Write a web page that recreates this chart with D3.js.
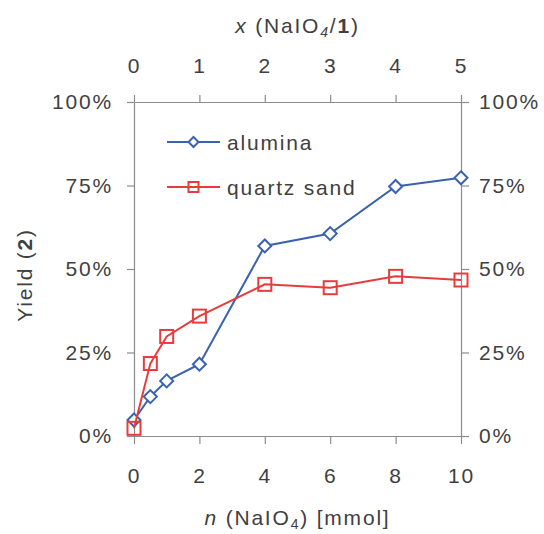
<!DOCTYPE html>
<html>
<head>
<meta charset="utf-8">
<script src="https://cdn.jsdelivr.net/npm/d3@7"></script>
<style>
  body { margin: 0; background: #fff; }
  text { font-family: "Liberation Sans", Arial, sans-serif; fill: #404040; letter-spacing: 1.8px; }
</style>
</head>
<body>
<div id="chart"></div>
<script>
// data
const nValues = [0, 0.5, 1, 2, 4, 6, 8, 10];          // n(NaIO4) mmol
const alumina = [4.8, 11.8, 16.5, 21.5, 56.9, 60.6, 74.7, 77.3];
const quartzSand = [2.3, 21.7, 29.8, 35.9, 45.4, 44.4, 47.8, 46.7];
const bottomTicks = [0, 2, 4, 6, 8, 10];
const topTicks = [0, 1, 2, 3, 4, 5];
const yTicks = [0, 25, 50, 75, 100];

const W = 544, H = 534;
const margin = {top: 102, right: 83, bottom: 98, left: 134};
const width = W - margin.left - margin.right;
const height = H - margin.top - margin.bottom;
const fs = 21;

const svg = d3.select("#chart").append("svg")
    .attr("width", W)
    .attr("height", H);
const g = svg.append("g")
    .attr("transform", `translate(${margin.left},${margin.top})`);

const x = d3.scaleLinear().domain([0, 10]).range([0, width]);
const xTop = d3.scaleLinear().domain([0, 5]).range([0, width]);
const y = d3.scaleLinear().domain([0, 100]).range([height, 0]);

function styleAxis(sel) {
    sel.selectAll("path, line").attr("stroke", "#8c8c8c").attr("stroke-width", 1.2);
    sel.selectAll("text").attr("font-size", fs).attr("fill", "#404040")
        .style("font-family", '"Liberation Sans", Arial, sans-serif');
}

g.append("g")
    .attr("transform", `translate(0,${height})`)
    .call(d3.axisBottom(x).tickValues(bottomTicks).tickFormat(d3.format("d"))
        .tickSize(8).tickPadding(24).tickSizeOuter(0))
    .call(styleAxis);

g.append("g")
    .call(d3.axisTop(xTop).tickValues(topTicks).tickFormat(d3.format("d"))
        .tickSize(7).tickPadding(22).tickSizeOuter(0))
    .call(styleAxis);

g.append("g")
    .call(d3.axisLeft(y).tickValues(yTicks).tickFormat(d => d + "%")
        .tickSize(7).tickPadding(14).tickSizeOuter(0))
    .call(styleAxis);

g.append("g")
    .attr("transform", `translate(${width},0)`)
    .call(d3.axisRight(y).tickValues(yTicks).tickFormat(d => d + "%")
        .tickSize(8).tickPadding(10).tickSizeOuter(0))
    .call(styleAxis);

// series
const series = [
    {name: "alumina", values: alumina, color: "#3a62b0", shape: "diamond"},
    {name: "quartz sand", values: quartzSand, color: "#e83c3c", shape: "square"}
];

const line = d3.line()
    .x(d => x(d[0]))
    .y(d => y(d[1]));

function marker(sel, shape, color, r) {
    if (shape === "diamond") {
        sel.append("path")
            .attr("d", `M0,${-r}L${r},0L0,${r}L${-r},0Z`)
            .attr("fill", "#fff")
            .attr("stroke", color)
            .attr("stroke-width", 2);
    } else {
        sel.append("rect")
            .attr("x", -r).attr("y", -r)
            .attr("width", 2 * r).attr("height", 2 * r)
            .attr("fill", "none")
            .attr("stroke", color)
            .attr("stroke-width", 2);
    }
}

series.forEach(s => {
    const pts = nValues.map((n, i) => [n, s.values[i]]);
    g.append("path")
        .datum(pts)
        .attr("fill", "none")
        .attr("stroke", s.color)
        .attr("stroke-width", 2)
        .attr("d", line);
    g.selectAll(null)
        .data(pts)
        .enter().append("g")
        .attr("transform", d => `translate(${x(d[0])},${y(d[1])})`)
        .each(function() { marker(d3.select(this), s.shape, s.color, 6.5); });
});

// legend
const legend = svg.append("g").attr("transform", "translate(167,142)");
series.forEach((s, i) => {
    const row = legend.append("g").attr("transform", `translate(0,${i * 45})`);
    row.append("line")
        .attr("x1", 0).attr("x2", 53)
        .attr("stroke", s.color).attr("stroke-width", 2);
    const m = row.append("g").attr("transform", "translate(26.5,0)");
    marker(m, s.shape, s.color, 5);
    row.append("text")
        .attr("x", 60).attr("y", 7.5)
        .attr("font-size", fs)
        .text(s.name);
});

// axis titles
const bt = svg.append("text")
    .attr("x", margin.left + width / 2)
    .attr("y", 525)
    .attr("text-anchor", "middle")
    .attr("font-size", fs);
bt.append("tspan").attr("font-style", "italic").text("n");
bt.append("tspan").text(" (NaIO");
bt.append("tspan").attr("font-size", 14).attr("dy", 4).text("4");
bt.append("tspan").attr("dy", -4).text(") [mmol]");

const tt = svg.append("text")
    .attr("x", margin.left + width / 2)
    .attr("y", 33)
    .attr("text-anchor", "middle")
    .attr("font-size", fs);
tt.append("tspan").attr("font-style", "italic").text("x");
tt.append("tspan").text(" (NaIO");
tt.append("tspan").attr("font-size", 14).attr("dy", 4).attr("font-style", "italic").text("4");
tt.append("tspan").attr("dy", -4).text("/");
tt.append("tspan").attr("font-weight", "bold").text("1");
tt.append("tspan").text(")");

const yt = svg.append("text")
    .attr("transform", "translate(32,275) rotate(-90)")
    .attr("text-anchor", "middle")
    .attr("font-size", fs);
yt.append("tspan").text("Yield (");
yt.append("tspan").attr("font-weight", "bold").text("2");
yt.append("tspan").text(")");
</script>
</body>
</html>
